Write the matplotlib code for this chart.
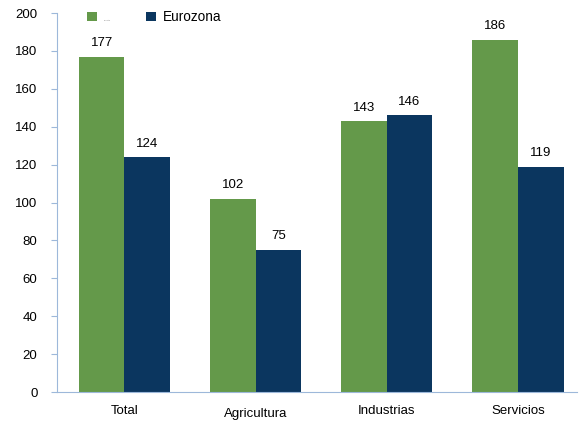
import numpy as np
import matplotlib.pyplot as plt

plt.rcParams["font.family"] = ["Liberation Sans", "DejaVu Sans"]

categories = ["Total", "Agricultura", "Industrias", "Servicios"]
spain = [177, 102, 143, 186]
eurozone = [124, 75, 146, 119]
series_names = ["España", "Eurozona"]
y_ticks = [0, 20, 40, 60, 80, 100, 120, 140, 160, 180, 200]

GREEN = "#64994A"
NAVY = "#0B365F"
AXIS = "#9DB8DA"

fig = plt.figure(figsize=(5.87, 4.22), dpi=100)
ax = fig.add_axes([0.097, 0.071, 0.886, 0.898])

x = np.arange(len(categories))
w = 0.347
b1 = ax.bar(x - w / 2, spain, w, color=GREEN, label=series_names[0])
b2 = ax.bar(x + w / 2, eurozone, w, color=NAVY, label=series_names[1])

for bars in (b1, b2):
    for r in bars:
        ax.text(r.get_x() + r.get_width() / 2, r.get_height() + 4,
                f"{r.get_height():.0f}", ha="center", va="bottom", fontsize=9.5)

ax.set_xlim(-0.514, 3.45)
ax.set_ylim(0, 200)
ax.set_yticks(y_ticks)
ax.tick_params(axis="y", labelsize=9.5, color=AXIS, length=4, pad=10)
ax.tick_params(axis="x", length=0, labelsize=9.5, pad=9)
ax.set_xticks(x)
ax.set_xticklabels(categories)
ax.get_xticklabels()[1].set_y(-0.01)

for s in ("top", "right"):
    ax.spines[s].set_visible(False)
ax.spines["left"].set_color(AXIS)
ax.spines["bottom"].set_color(AXIS)

leg = ax.legend(loc="upper left", bbox_to_anchor=(0.035, 1.04), ncol=2,
                frameon=False, fontsize=9.8, handlelength=0.7, handleheight=0.7,
                columnspacing=2.6, handletextpad=0.5)
leg.get_texts()[0].set_fontsize(1.5)
leg.get_texts()[0].set_color("#888888")

fig.savefig("out.png", dpi=100)
